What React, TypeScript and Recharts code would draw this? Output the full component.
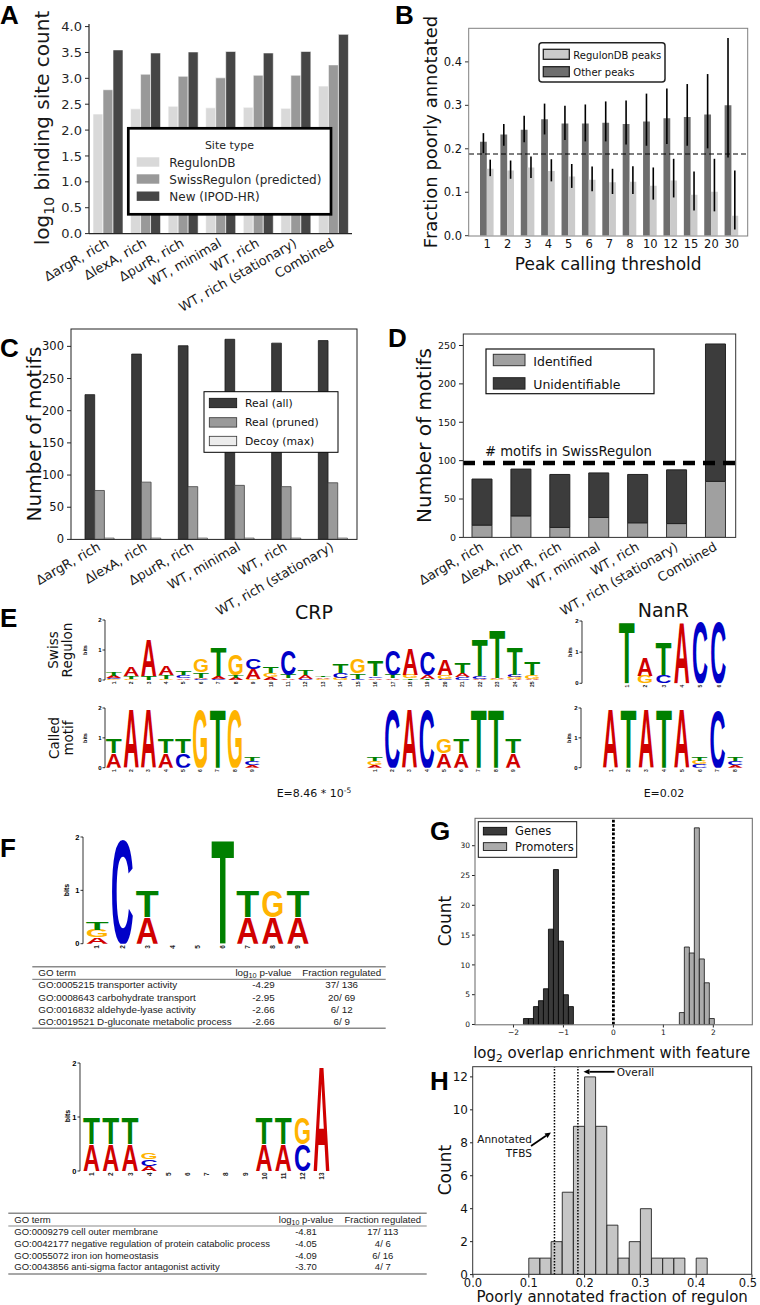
import React from 'react';
import { BarChart, Bar, XAxis, YAxis, ReferenceLine, ErrorBar } from 'recharts';

const SANS = "'DejaVu Sans', 'Liberation Sans', sans-serif";
const HELV = "'Liberation Sans', Arial, sans-serif";

// ===== Panel A =====
const conditionsAll = ['ΔargR, rich', 'ΔlexA, rich', 'ΔpurR, rich', 'WT, minimal', 'WT, rich', 'WT, rich (stationary)', 'Combined'];
const siteRegulonDB = [2.31, 2.41, 2.46, 2.43, 2.44, 2.42, 2.85];
const siteSwissRegulon = [2.78, 3.08, 3.04, 3.01, 3.06, 3.06, 3.26];
const siteNewIPOD = [3.55, 3.49, 3.51, 3.52, 3.49, 3.52, 3.85];
const ticksA = [0, 0.5, 1, 1.5, 2, 2.5, 3, 3.5, 4];

// ===== Panel B =====
const thresholds = ['1', '2', '3', '4', '5', '6', '7', '8', '10', '12', '15', '20', '30'];
const otherPeaks = [0.216, 0.233, 0.244, 0.268, 0.258, 0.258, 0.260, 0.257, 0.263, 0.270, 0.273, 0.279, 0.300];
const otherLow = [0.190, 0.207, 0.215, 0.233, 0.220, 0.217, 0.217, 0.210, 0.207, 0.211, 0.207, 0.201, 0.180];
const otherHigh = [0.236, 0.257, 0.276, 0.304, 0.299, 0.302, 0.309, 0.311, 0.327, 0.339, 0.349, 0.372, 0.455];
const regulonPeaks = [0.154, 0.150, 0.157, 0.149, 0.136, 0.129, 0.123, 0.124, 0.115, 0.127, 0.094, 0.101, 0.046];
const regulonLow = [0.137, 0.131, 0.133, 0.125, 0.110, 0.102, 0.096, 0.096, 0.083, 0.088, 0.058, 0.056, 0.014];
const regulonHigh = [0.175, 0.173, 0.182, 0.176, 0.165, 0.159, 0.154, 0.160, 0.157, 0.177, 0.148, 0.177, 0.150];
const overallPoorFraction = 0.188;
const ticksB = [0, 0.1, 0.2, 0.3, 0.4];

// ===== Panel C =====
const conditionsSix = ['ΔargR, rich', 'ΔlexA, rich', 'ΔpurR, rich', 'WT, minimal', 'WT, rich', 'WT, rich (stationary)'];
const motifsRealAll = [225, 288, 301, 311, 305, 309];
const motifsRealPruned = [76, 89, 82, 84, 82, 88];
const motifsDecoyMax = [2, 2, 2, 2, 2, 2];
const ticksC = [0, 50, 100, 150, 200, 250, 300];

// ===== Panel D =====
const motifsIdentified = [16, 28, 13, 26, 19, 18, 73];
const motifsUnidentifiable = [60, 61, 69, 58, 63, 70, 179];
const swissRegulonMotifCount = 97;
const ticksD = [0, 50, 100, 150, 200, 250];

// ===== Panel E / F logos (letter, bits), bottom to top =====
type Stack = [string, number][];
const crpSwissLogo: Stack[] = [
  [['G', 0.03], ['C', 0.03], ['A', 0.08], ['T', 0.14]],
  [['G', 0.04], ['T', 0.08], ['A', 0.30]],
  [['T', 0.12], ['A', 1.22]],
  [['G', 0.04], ['T', 0.14], ['A', 0.30]],
  [['A', 0.06], ['C', 0.10], ['T', 0.12]],
  [['C', 0.04], ['A', 0.04], ['T', 0.18], ['G', 0.45]],
  [['C', 0.04], ['A', 0.10], ['T', 0.95]],
  [['A', 0.08], ['T', 0.10], ['G', 0.70]],
  [['G', 0.03], ['A', 0.33], ['C', 0.36]],
  [['A', 0.10], ['G', 0.12], ['T', 0.20]],
  [['A', 0.05], ['T', 0.12], ['C', 0.85]],
  [['C', 0.03], ['A', 0.14], ['T', 0.18]],
  [['G', 0.04], ['A', 0.06], ['T', 0.06]],
  [['G', 0.08], ['C', 0.15], ['T', 0.30]],
  [['C', 0.04], ['T', 0.18], ['G', 0.46]],
  [['A', 0.06], ['C', 0.06], ['T', 0.52]],
  [['A', 0.06], ['T', 0.12], ['C', 0.82]],
  [['T', 0.05], ['G', 0.12], ['A', 0.86]],
  [['T', 0.04], ['A', 0.12], ['C', 0.78]],
  [['C', 0.04], ['G', 0.14], ['A', 0.52]],
  [['C', 0.10], ['A', 0.12], ['T', 0.36]],
  [['A', 0.04], ['C', 0.10], ['T', 1.25]],
  [['G', 0.03], ['A', 0.04], ['T', 1.65]],
  [['A', 0.03], ['G', 0.07], ['C', 0.07], ['T', 0.92]],
  [['A', 0.04], ['G', 0.12], ['T', 0.45]],
];
const crpCalledLeft: Stack[] = [
  [['A', 0.5], ['T', 0.5]], [['A', 2.0]], [['A', 2.0]], [['A', 0.5], ['T', 0.5]], [['C', 0.5], ['T', 0.5]],
  [['G', 2.0]], [['T', 2.0]], [['G', 2.0]], [['A', 0.1], ['C', 0.12], ['T', 0.12]],
];
const crpCalledRight: Stack[] = [
  [['A', 0.08], ['G', 0.14], ['T', 0.12]], [['C', 2.0]], [['A', 2.0]], [['C', 2.0]], [['A', 0.5], ['G', 0.5]],
  [['A', 0.5], ['T', 0.5]], [['T', 2.0]], [['T', 2.0]], [['A', 0.5], ['T', 0.5]],
];
const nanrSwissLogo: Stack[] = [
  [['T', 1.98]], [['G', 0.24], ['A', 0.59]], [['C', 0.27], ['T', 1.07]], [['A', 1.98]], [['C', 1.98]], [['C', 1.98]],
];
const nanrCalledLogo: Stack[] = [
  [['A', 2.0]], [['T', 2.0]], [['A', 2.0]], [['T', 2.0]], [['A', 2.0]],
  [['C', 0.12], ['G', 0.12], ['T', 0.12]], [['C', 1.95]], [['A', 0.1], ['C', 0.12], ['T', 0.12]],
];
const motifF1: Stack[] = [
  [['A', 0.12], ['G', 0.14], ['T', 0.14]], [['C', 2.0]], [['A', 0.5], ['T', 0.5]], [], [],
  [['T', 2.0]], [['A', 0.5], ['T', 0.5]], [['A', 0.5], ['G', 0.5]], [['A', 0.5], ['T', 0.5]],
];
const motifF2: Stack[] = [
  [['A', 0.5], ['T', 0.5]], [['A', 0.5], ['T', 0.5]], [['A', 0.5], ['T', 0.5]], [['A', 0.1], ['C', 0.13], ['G', 0.13]],
  [], [], [], [], [],
  [['A', 0.5], ['T', 0.5]], [['A', 0.5], ['T', 0.5]], [['C', 0.5], ['G', 0.5]], [['A', 2.0]],
];

// ===== Panel F tables =====
const goTable1 = [
  ['GO:0005215 transporter activity', '-4.29', '37/ 136'],
  ['GO:0008643 carbohydrate transport', '-2.95', '20/ 69'],
  ['GO:0016832 aldehyde-lyase activity', '-2.66', '6/ 12'],
  ['GO:0019521 D-gluconate metabolic process', '-2.66', '6/ 9'],
];
const goTable2 = [
  ['GO:0009279 cell outer membrane', '-4.81', '17/ 113'],
  ['GO:0042177 negative regulation of protein catabolic process', '-4.05', '4/ 6'],
  ['GO:0055072 iron ion homeostasis', '-4.09', '6/ 16'],
  ['GO:0043856 anti-sigma factor antagonist activity', '-3.70', '4/ 7'],
];

// ===== Panel G =====
const geneBinCenters = [-1.75, -1.65, -1.55, -1.45, -1.35, -1.25, -1.15, -1.05, -0.95, -0.85];
const geneCounts = [1, 1, 3, 4, 6, 16, 26, 14, 5, 3];
const promoterBinCenters = [1.37, 1.47, 1.57, 1.67, 1.77, 1.87, 1.97];
const promoterCounts = [2, 13, 12, 33, 11, 7, 1];
const ticksGx = [-2, -1, 0, 1, 2];
const ticksGy = [0, 5, 10, 15, 20, 25, 30];

// ===== Panel H =====
const regulonBinCenters = [0.11, 0.13, 0.15, 0.17, 0.19, 0.21, 0.23, 0.25, 0.27, 0.29, 0.31, 0.33, 0.35, 0.37, 0.39, 0.41];
const regulonCounts = [1, 1, 2, 5, 9, 12, 9, 3, 1, 2, 4, 1, 1, 1, 0, 1];
const annotatedTFBSFraction = 0.146;
const overallFraction = 0.188;
const ticksHx = [0, 0.1, 0.2, 0.3, 0.4, 0.5];
const ticksHy = [0, 2, 4, 6, 8, 10, 12];

// ===== helpers =====
type Rect = { x0: number; y0: number; x1: number; y1: number };
type Pad = { l: number; t: number; r: number; b: number };

function Place({ r, p, render }: { r: Rect; p: Pad; render: (w: number, h: number) => React.ReactNode }) {
  const w = r.x1 - r.x0 + p.l + p.r;
  const h = r.y1 - r.y0 + p.t + p.b;
  return <div style={{ position: 'absolute', left: r.x0 - p.l, top: r.y0 - p.t, width: w, height: h }}>{render(w, h)}</div>;
}

const rotTick = (fs: number, dy: number, dx: number) => (props: any) => {
  const { x, y, payload } = props;
  const tx = x + dx;
  const ty = y + dy;
  return (
    <text x={tx} y={ty} transform={`rotate(-30 ${tx} ${ty})`} textAnchor="end" fontSize={fs} fill="#1a1a1a" fontFamily={SANS}>
      {payload.value}
    </text>
  );
};

const LETTER_COLORS: Record<string, string> = { A: '#d00000', C: '#0000c8', G: '#ffb300', T: '#008000' };
const letterShape = (k: number) => (props: any) => {
  const { x, y, width, height, payload } = props;
  const l = payload ? payload['l' + k] : '';
  if (!l || !(height > 0.3)) return <g />;
  return (
    <text
      transform={`translate(${x},${y + height}) scale(${width / 100},${height / 71.5})`}
      x={0}
      y={0}
      fontSize={100}
      fontFamily={HELV}
      fontWeight={700}
      fill={LETTER_COLORS[l]}
      textLength={100}
      lengthAdjust="spacingAndGlyphs"
    >
      {l}
    </text>
  );
};

const posTick = (fs: number) => (props: any) => {
  const { x, y, payload } = props;
  const ty = y + 1.5;
  return (
    <text x={x} y={ty} transform={`rotate(-90 ${x} ${ty})`} textAnchor="end" dominantBaseline="central" fontSize={fs} fontWeight={700} fontFamily={HELV} fill="#222">
      {payload.value}
    </text>
  );
};

function Logo({ stacks, r, padLeft = 0, axis = true, tf = 6, pf = 5 }: { stacks: Stack[]; r: Rect; padLeft?: number; axis?: boolean; tf?: number; pf?: number }) {
  const rows = stacks.map((s, i) => {
    const o: any = { pos: String(i + 1) };
    for (let k = 0; k < 4; k++) {
      o['h' + k] = s[k] ? s[k][1] : 0;
      o['l' + k] = s[k] ? s[k][0] : '';
    }
    return o;
  });
  const ph = r.y1 - r.y0;
  const p = { l: 22, t: Math.ceil(ph * 0.32) + 6, r: 6, b: Math.ceil(ph * 0.36) + 18 };
  return (
    <Place r={r} p={p} render={(w, h) => (
      <BarChart width={w} height={h} data={rows} margin={{ top: p.t, right: p.r, left: axis ? 0 : p.l, bottom: 0 }} barCategoryGap="5%">
        <XAxis dataKey="pos" interval={0} height={p.b} padding={{ left: padLeft, right: 0 }} axisLine={false} tickLine={false} tickSize={0} tickMargin={0} tick={posTick(pf)} />
        <YAxis hide={!axis} width={p.l} type="number" domain={[0, 2]} ticks={[0, 1, 2]} allowDataOverflow tickSize={2.5} tickMargin={1}
          axisLine={{ stroke: '#000', strokeWidth: 0.8 }} tickLine={{ stroke: '#000', strokeWidth: 0.8 }}
          tick={{ fontSize: tf, fontWeight: 700, fill: '#000', fontFamily: HELV }} />
        {[0, 1, 2, 3].map((k) => (
          <Bar key={k} dataKey={'h' + k} stackId="s" isAnimationActive={false} shape={letterShape(k)} />
        ))}
      </BarChart>
    )} />
  );
}

// ===== panels =====
const rA: Rect = { x0: 89, y0: 24.4, x1: 352, y1: 234 };
const pA: Pad = { l: 60, t: 10, r: 10, b: 85 };
function PanelA() {
  const data = conditionsAll.map((c, i) => ({ c, reg: siteRegulonDB[i], swiss: siteSwissRegulon[i], nw: siteNewIPOD[i] }));
  return (
    <Place r={rA} p={pA} render={(w, h) => (
      <BarChart width={w} height={h} data={data} margin={{ top: pA.t, right: pA.r, left: 0, bottom: 0 }} barCategoryGap={4} barGap={0}>
        <XAxis dataKey="c" interval={0} height={pA.b} tickSize={0} tickMargin={0} tickLine={false} axisLine={{ stroke: '#262626', strokeWidth: 1.2 }} tick={rotTick(13, 12, 2)} />
        <YAxis width={pA.l} type="number" domain={[0, 4.05]} ticks={ticksA} allowDataOverflow tickFormatter={(v: number) => v.toFixed(1)}
          tickSize={4} tickMargin={3} axisLine={{ stroke: '#262626', strokeWidth: 1.2 }} tickLine={{ stroke: '#262626' }} tick={{ fontSize: 13, fill: '#262626' }} />
        <Bar dataKey="reg" fill="#d9d9d9" stroke="#ffffff" strokeWidth={0.6} isAnimationActive={false} />
        <Bar dataKey="swiss" fill="#999999" stroke="#ffffff" strokeWidth={0.6} isAnimationActive={false} />
        <Bar dataKey="nw" fill="#464646" stroke="#ffffff" strokeWidth={0.6} isAnimationActive={false} />
      </BarChart>
    )} />
  );
}

const rB: Rect = { x0: 468.7, y0: 28.3, x1: 747.7, y1: 236 };
const pB: Pad = { l: 40, t: 6, r: 8, b: 24 };
function PanelB() {
  const data = thresholds.map((t, i) => ({
    t,
    other: otherPeaks[i],
    otherErr: [otherPeaks[i] - otherLow[i], otherHigh[i] - otherPeaks[i]],
    reg: regulonPeaks[i],
    regErr: [regulonPeaks[i] - regulonLow[i], regulonHigh[i] - regulonPeaks[i]],
  }));
  return (
    <Place r={rB} p={pB} render={(w, h) => (
      <BarChart width={w} height={h} data={data} margin={{ top: pB.t, right: pB.r, left: 0, bottom: 0 }} barGap={0} barSize={6.8}>
        <XAxis dataKey="t" interval={0} height={pB.b} padding={{ left: 8, right: 6 }} axisLine={false} tickLine={false} tickSize={0} tickMargin={4} tick={{ fontSize: 11.5, fill: '#111' }} />
        <YAxis width={pB.l} type="number" domain={[0, 0.478]} ticks={ticksB} allowDataOverflow tickFormatter={(v: number) => v.toFixed(1)}
          tickSize={4} tickMargin={3} axisLine={false} tickLine={{ stroke: '#333' }} tick={{ fontSize: 11.5, fill: '#111' }} />
        <Bar dataKey="other" fill="#6e6e6e" isAnimationActive={false}>
          <ErrorBar dataKey="otherErr" width={0} stroke="#000" strokeWidth={1.6} direction="y" isAnimationActive={false} />
        </Bar>
        <Bar dataKey="reg" fill="#cbcbcb" isAnimationActive={false}>
          <ErrorBar dataKey="regErr" width={0} stroke="#000" strokeWidth={1.6} direction="y" isAnimationActive={false} />
        </Bar>
        <ReferenceLine y={overallPoorFraction} stroke="#000" strokeWidth={1.2} strokeDasharray="5 3" />
      </BarChart>
    )} />
  );
}

const rC: Rect = { x0: 71, y0: 329, x1: 357, y1: 539.4 };
const pC: Pad = { l: 50, t: 6, r: 6, b: 95 };
function PanelC() {
  const data = conditionsSix.map((c, i) => ({ c, all: motifsRealAll[i], pruned: motifsRealPruned[i], decoy: motifsDecoyMax[i] }));
  return (
    <Place r={rC} p={pC} render={(w, h) => (
      <BarChart width={w} height={h} data={data} margin={{ top: pC.t, right: pC.r, left: 0, bottom: 0 }} barGap={0} barSize={9.7}>
        <XAxis dataKey="c" interval={0} height={pC.b} padding={{ left: 5, right: 1 }} tickSize={0} tickMargin={0} tickLine={false} axisLine={false} tick={rotTick(13, 10, 2)} />
        <YAxis width={pC.l} type="number" domain={[0, 327]} ticks={ticksC} allowDataOverflow tickSize={4} tickMargin={3}
          axisLine={false} tickLine={{ stroke: '#222' }} tick={{ fontSize: 11.5, fill: '#111' }} />
        <Bar dataKey="all" fill="#3a3a3a" stroke="#1a1a1a" strokeWidth={0.8} isAnimationActive={false} />
        <Bar dataKey="pruned" fill="#9a9a9a" stroke="#444" strokeWidth={0.8} isAnimationActive={false} />
        <Bar dataKey="decoy" fill="#ececec" stroke="#555" strokeWidth={0.8} isAnimationActive={false} />
      </BarChart>
    )} />
  );
}

const rD: Rect = { x0: 463.3, y0: 334, x1: 735.7, y1: 537.4 };
const pD: Pad = { l: 50, t: 6, r: 20, b: 95 };
function PanelD() {
  const data = conditionsAll.map((c, i) => ({ c, idf: motifsIdentified[i], unid: motifsUnidentifiable[i] }));
  return (
    <Place r={rD} p={pD} render={(w, h) => (
      <BarChart width={w} height={h} data={data} margin={{ top: pD.t, right: pD.r, left: 0, bottom: 0 }} barSize={20}>
        <XAxis dataKey="c" interval={0} height={pD.b} tickSize={0} tickMargin={0} tickLine={false} axisLine={false} tick={rotTick(13, 12, 2)} />
        <YAxis width={pD.l} type="number" domain={[0, 265]} ticks={ticksD} allowDataOverflow tickSize={4} tickMargin={3}
          axisLine={false} tickLine={{ stroke: '#222' }} tick={{ fontSize: 9.5, fill: '#111' }} />
        <Bar dataKey="idf" stackId="m" fill="#a0a0a0" stroke="#333" strokeWidth={1} isAnimationActive={false} />
        <Bar dataKey="unid" stackId="m" fill="#3c3c3c" stroke="#222" strokeWidth={1} isAnimationActive={false} />
        <ReferenceLine y={swissRegulonMotifCount} stroke="#000" strokeWidth={4.5} strokeDasharray="12 8" />
      </BarChart>
    )} />
  );
}

const minusFmt = (v: number) => (v < 0 ? '\u2212' + Math.abs(v) : String(v));

const rG: Rect = { x0: 475, y0: 818.3, x1: 752.3, y1: 1024.8 };
const pG: Pad = { l: 25, t: 4, r: 5, b: 16 };
function PanelG() {
  const data = [
    ...geneBinCenters.map((x, i) => ({ x, genes: geneCounts[i] })),
    ...promoterBinCenters.map((x, i) => ({ x, promoters: promoterCounts[i] })),
  ];
  return (
    <Place r={rG} p={pG} render={(w, h) => (
      <BarChart width={w} height={h} data={data} margin={{ top: pG.t, right: pG.r, left: 0, bottom: 0 }} barCategoryGap={0} barGap={0}>
        <XAxis dataKey="x" type="number" domain={[-2.77, 2.78]} ticks={ticksGx} allowDataOverflow height={pG.b} tickFormatter={minusFmt}
          tickSize={3} tickMargin={2} axisLine={false} tickLine={{ stroke: '#222' }} tick={{ fontSize: 7.5, fill: '#111' }} />
        <YAxis width={pG.l} type="number" domain={[0, 34.65]} ticks={ticksGy} allowDataOverflow tickSize={3} tickMargin={2}
          axisLine={false} tickLine={{ stroke: '#222' }} tick={{ fontSize: 7.5, fill: '#111' }} />
        <Bar dataKey="genes" stackId="h" fill="#3a3a3a" stroke="#000" strokeWidth={0.8} isAnimationActive={false} />
        <Bar dataKey="promoters" stackId="h" fill="#ababab" stroke="#111" strokeWidth={0.8} isAnimationActive={false} />
        <ReferenceLine x={0} stroke="#000" strokeWidth={2.8} strokeDasharray="2.7 1.6" />
      </BarChart>
    )} />
  );
}

const hxTick = (props: any) => {
  const { x, y, payload } = props;
  const v = Number(payload.value);
  const shift = v >= 0.5 ? -2 : 0;
  return (
    <text x={x + shift} y={y} dy="0.71em" textAnchor="middle" fontSize={11.5} fill="#111" fontFamily={SANS}>
      {v.toFixed(1)}
    </text>
  );
};

const rH: Rect = { x0: 472.7, y0: 1066.7, x1: 751.7, y1: 1274.3 };
const pH: Pad = { l: 32, t: 4, r: 8, b: 20 };
function PanelH() {
  const data = regulonBinCenters.map((x, i) => ({ x, n: regulonCounts[i] }));
  return (
    <Place r={rH} p={pH} render={(w, h) => (
      <BarChart width={w} height={h} data={data} margin={{ top: pH.t, right: pH.r, left: 0, bottom: 0 }} barCategoryGap={0} barGap={0}>
        <XAxis dataKey="x" type="number" domain={[0, 0.5]} ticks={ticksHx} allowDataOverflow height={pH.b}
          tickSize={3} tickMargin={1} axisLine={false} tickLine={{ stroke: '#222' }} tick={hxTick} />
        <YAxis width={pH.l} type="number" domain={[0, 12.6]} ticks={ticksHy} allowDataOverflow tickSize={3} tickMargin={2}
          axisLine={false} tickLine={{ stroke: '#222' }} tick={{ fontSize: 12, fill: '#111' }} />
        <Bar dataKey="n" fill="#c6c6c6" stroke="#222" strokeWidth={0.9} isAnimationActive={false} />
        <ReferenceLine x={annotatedTFBSFraction} stroke="#000" strokeWidth={1.5} strokeDasharray="1.5 1.5" />
        <ReferenceLine x={overallFraction} stroke="#000" strokeWidth={1.5} strokeDasharray="1.5 1.5" />
      </BarChart>
    )} />
  );
}

function Arrow({ x1, y1, x2, y2, w = 1.8, head = 6 }: { x1: number; y1: number; x2: number; y2: number; w?: number; head?: number }) {
  const dx = x2 - x1, dy = y2 - y1;
  const L = Math.sqrt(dx * dx + dy * dy);
  const ux = dx / L, uy = dy / L;
  const bx = x2 - ux * head, by = y2 - uy * head;
  const px = -uy * head * 0.45, py = ux * head * 0.45;
  return (
    <g>
      <line x1={x1} y1={y1} x2={bx} y2={by} stroke="#000" strokeWidth={w} />
      <polygon points={`${x2},${y2} ${bx + px},${by + py} ${bx - px},${by - py}`} fill="#000" />
    </g>
  );
}

function GoTable({ rows, x0, x1, yTop, yHead, yBottom, colP, colF, xText, fs, rowY }: any) {
  return (
    <g fontFamily={HELV} fontSize={fs} fill="#1a1a1a">
      <line x1={x0} x2={x1} y1={yTop} y2={yTop} stroke="#8a8a8a" strokeWidth={1.4} />
      <line x1={x0} x2={x1} y1={yHead} y2={yHead} stroke="#8a8a8a" strokeWidth={1.2} />
      <line x1={x0} x2={x1} y1={yBottom} y2={yBottom} stroke="#8a8a8a" strokeWidth={1.4} />
      <text x={xText} y={(yTop + yHead) / 2 + 3.4}>GO term</text>
      <text x={colP} y={(yTop + yHead) / 2 + 3.4} textAnchor="middle">log<tspan dy={2} fontSize={fs * 0.75}>10</tspan><tspan dy={-2}> p-value</tspan></text>
      <text x={colF} y={(yTop + yHead) / 2 + 3.4} textAnchor="middle">Fraction regulated</text>
      {rows.map((r: string[], i: number) => (
        <g key={i}>
          <text x={xText} y={rowY[i] + 3.4}>{r[0]}</text>
          <text x={colP} y={rowY[i] + 3.4} textAnchor="middle">{r[1]}</text>
          <text x={colF} y={rowY[i] + 3.4} textAnchor="middle">{r[2]}</text>
        </g>
      ))}
    </g>
  );
}

function Overlay() {
  const letters: [string, number, number][] = [
    ['A', 0, 24], ['B', 395, 24], ['C', 0, 357], ['D', 388, 347], ['E', 0, 627], ['F', 0, 857], ['G', 430, 840], ['H', 430, 1090],
  ];
  return (
    <svg width={760} height={1305} style={{ position: 'absolute', left: 0, top: 0, pointerEvents: 'none' }} fontFamily={SANS}>
      {letters.map(([t, x, y]) => (
        <text key={t} x={x} y={y} fontSize={26} fontWeight={700} fontFamily={HELV} fill="#000">{t}</text>
      ))}

      {/* Panel A */}
      <text transform="translate(48.5,128) rotate(-90)" textAnchor="middle" fontSize={20} fill="#1a1a1a">
        log<tspan dy={5} fontSize={14}>10</tspan><tspan dy={-5}> binding site count</tspan>
      </text>
      <rect x={128.3} y={128.3} width={202.7} height={86} fill="#fff" stroke="#000" strokeWidth={2.7} />
      <text x={229.5} y={149} textAnchor="middle" fontSize={11} fill="#262626">Site type</text>
      <rect x={136.7} y={157.3} width={22.6} height={9.4} fill="#d9d9d9" />
      <rect x={136.7} y={174.3} width={22.6} height={9.4} fill="#999999" />
      <rect x={136.7} y={191.5} width={22.6} height={9.4} fill="#464646" />
      <text x={169.3} y={166.5} fontSize={12} fill="#262626">RegulonDB</text>
      <text x={169.3} y={183.8} fontSize={12} fill="#262626">SwissRegulon (predicted)</text>
      <text x={169.3} y={201.1} fontSize={12} fill="#262626">New (IPOD-HR)</text>

      {/* Panel B */}
      <rect x={rB.x0} y={rB.y0} width={rB.x1 - rB.x0} height={rB.y1 - rB.y0} fill="none" stroke="#808080" strokeWidth={1} />
      <text transform="translate(436.5,132) rotate(-90)" textAnchor="middle" fontSize={18} fill="#111">Fraction poorly annotated</text>
      <text x={608.2} y={269.5} textAnchor="middle" fontSize={17} fill="#111">Peak calling threshold</text>
      <rect x={539} y={42.7} width={126} height={39.3} rx={3} fill="#fff" stroke="#222" strokeWidth={1.5} />
      <rect x={543.3} y={49.3} width={26} height={10} fill="#cbcbcb" stroke="#222" strokeWidth={1.3} />
      <rect x={543.3} y={66.7} width={26} height={10} fill="#6e6e6e" stroke="#222" strokeWidth={1.3} />
      <text x={573.3} y={58.6} fontSize={10} fill="#111">RegulonDB peaks</text>
      <text x={573.3} y={75.9} fontSize={10} fill="#111">Other peaks</text>

      {/* Panel C */}
      <rect x={rC.x0} y={rC.y0} width={rC.x1 - rC.x0} height={rC.y1 - rC.y0} fill="none" stroke="#222" strokeWidth={1} />
      <text transform="translate(41.3,434) rotate(-90)" textAnchor="middle" fontSize={20} fill="#111">Number of motifs</text>
      <rect x={204} y={391.7} width={134} height={60.6} fill="#fff" stroke="#000" strokeWidth={1} />
      <rect x={209.3} y={398.3} width={27.4} height={9.4} fill="#3a3a3a" stroke="#111" strokeWidth={0.8} />
      <rect x={209.3} y={417.7} width={27.4} height={9.4} fill="#9a9a9a" stroke="#333" strokeWidth={0.8} />
      <rect x={209.3} y={436.3} width={27.4} height={9.4} fill="#ececec" stroke="#333" strokeWidth={0.8} />
      <text x={245} y={406.7} fontSize={10.8} fill="#111">Real (all)</text>
      <text x={245} y={426.3} fontSize={10.8} fill="#111">Real (pruned)</text>
      <text x={245} y={445} fontSize={10.8} fill="#111">Decoy (max)</text>

      {/* Panel D */}
      <rect x={rD.x0} y={rD.y0} width={rD.x1 - rD.x0} height={rD.y1 - rD.y0} fill="none" stroke="#333" strokeWidth={1} />
      <text transform="translate(431.3,435.5) rotate(-90)" textAnchor="middle" fontSize={20} fill="#111">Number of motifs</text>
      <rect x={486} y={349} width={168} height={44.7} fill="#fff" stroke="#111" strokeWidth={1.2} />
      <rect x={493.3} y={354.3} width={31.7} height={11.4} fill="#a0a0a0" stroke="#333" strokeWidth={1} />
      <rect x={493.3} y={377.7} width={31.7} height={11.4} fill="#3c3c3c" stroke="#222" strokeWidth={1} />
      <text x={533.3} y={365.5} fontSize={12.5} fill="#111">Identified</text>
      <text x={533.3} y={388.5} fontSize={12.5} fill="#111">Unidentifiable</text>
      <text x={485} y={455.5} fontSize={13.2} fill="#111"># motifs in SwissRegulon</text>

      {/* Panel E */}
      <text x={314} y={619} textAnchor="middle" fontSize={19} fill="#111">CRP</text>
      <text x={663.3} y={617} textAnchor="middle" fontSize={19} fill="#111">NanR</text>
      <text transform="translate(58,650) rotate(-90)" textAnchor="middle" fontSize={13.5} fill="#111">Swiss</text>
      <text transform="translate(72,650) rotate(-90)" textAnchor="middle" fontSize={13.5} fill="#111">Regulon</text>
      <text transform="translate(59,738) rotate(-90)" textAnchor="middle" fontSize={13.5} fill="#111">Called</text>
      <text transform="translate(73.2,738) rotate(-90)" textAnchor="middle" fontSize={13.5} fill="#111">motif</text>
      <text transform="translate(87,650) rotate(-90)" textAnchor="middle" fontSize={5.5} fontWeight={700} fontFamily={HELV}>bits</text>
      <text transform="translate(87,738) rotate(-90)" textAnchor="middle" fontSize={5.5} fontWeight={700} fontFamily={HELV}>bits</text>
      <text transform="translate(572,652) rotate(-90)" textAnchor="middle" fontSize={5.5} fontWeight={700} fontFamily={HELV}>bits</text>
      <text transform="translate(571,738) rotate(-90)" textAnchor="middle" fontSize={5.5} fontWeight={700} fontFamily={HELV}>bits</text>
      <text x={314} y={797} textAnchor="middle" fontSize={11} fill="#111">E=8.46 * 10<tspan dy={-4} fontSize={7.5}>-5</tspan></text>
      <text x={664} y={797} textAnchor="middle" fontSize={11} fill="#111">E=0.02</text>

      {/* Panel F */}
      <text transform="translate(68.5,890) rotate(-90)" textAnchor="middle" fontSize={7} fontWeight={700} fontFamily={HELV}>bits</text>
      <text transform="translate(70,1116) rotate(-90)" textAnchor="middle" fontSize={7} fontWeight={700} fontFamily={HELV}>bits</text>
      <GoTable rows={goTable1} x0={32.3} x1={385.7} yTop={966.7} yHead={979.3} yBottom={1028.3} colP={263.5} colF={341.7} xText={38.3} fs={9.8}
        rowY={[985, 997.3, 1009.5, 1021.7]} />
      <GoTable rows={goTable2} x0={8.3} x1={426.7} yTop={1213.3} yHead={1226} yBottom={1274} colP={306} colF={382.8} xText={14.3} fs={9.5}
        rowY={[1231.5, 1243.3, 1255.3, 1266.7]} />

      {/* Panel G */}
      <rect x={rG.x0} y={rG.y0} width={rG.x1 - rG.x0} height={rG.y1 - rG.y0} fill="none" stroke="#666" strokeWidth={1} />
      <text transform="translate(450.7,921) rotate(-90)" textAnchor="middle" fontSize={17} fill="#111">Count</text>
      <text x={611.7} y={1058} textAnchor="middle" fontSize={15} fill="#111">log<tspan dy={4} fontSize={10.5}>2</tspan><tspan dy={-4}> overlap enrichment with feature</tspan></text>
      <rect x={478.3} y={821.7} width={98.4} height={35.6} fill="#fff" stroke="#111" strokeWidth={1} />
      <rect x={483.3} y={827.3} width={23.4} height={7.7} fill="#3a3a3a" stroke="#000" strokeWidth={0.8} />
      <rect x={483.3} y={842.7} width={23.4} height={7.7} fill="#ababab" stroke="#000" strokeWidth={0.8} />
      <text x={515} y={834.8} fontSize={11.5} fill="#111">Genes</text>
      <text x={515} y={850.8} fontSize={11.5} fill="#111">Promoters</text>

      {/* Panel H */}
      <rect x={rH.x0} y={rH.y0} width={rH.x1 - rH.x0} height={rH.y1 - rH.y0} fill="none" stroke="#333" strokeWidth={1} />
      <text transform="translate(450.7,1170) rotate(-90)" textAnchor="middle" fontSize={17} fill="#111">Count</text>
      <text x={612.2} y={1301.5} textAnchor="middle" fontSize={15} fill="#111">Poorly annotated fraction of regulon</text>
      <text x={616.7} y={1076} fontSize={10.5} fill="#111">Overall</text>
      <Arrow x1={614.5} y1={1071.8} x2={583.5} y2={1071.8} w={1.8} head={6} />
      <text x={532} y={1143} textAnchor="end" fontSize={10.5} fill="#111">Annotated</text>
      <text x={532} y={1157} textAnchor="end" fontSize={10.5} fill="#111">TFBS</text>
      <Arrow x1={531} y1={1146} x2={551} y2={1132.5} w={1.8} head={6} />
    </svg>
  );
}

export default function App() {
  return (
    <div style={{ position: 'absolute', left: 0, top: 0, width: 760, height: 1305, background: '#fff', fontFamily: SANS, overflow: 'hidden' }}>
      <PanelA />
      <PanelB />
      <PanelC />
      <PanelD />
      <Logo stacks={crpSwissLogo} r={{ x0: 104.6, x1: 540.3, y0: 620, y1: 680 }} />
      <Logo stacks={crpCalledLeft} r={{ x0: 104.6, x1: 260.3, y0: 708.3, y1: 768 }} />
      <Logo stacks={crpCalledRight} r={{ x0: 365.7, x1: 521.4, y0: 708.3, y1: 768 }} axis={false} />
      <Logo stacks={nanrSwissLogo} r={{ x0: 581.7, x1: 727.4, y0: 621, y1: 683.3 }} padLeft={35.9} />
      <Logo stacks={nanrCalledLogo} r={{ x0: 581.3, x1: 744.4, y0: 708.3, y1: 768 }} padLeft={20.7} />
      <Logo stacks={motifF1} r={{ x0: 82.7, x1: 310, y0: 837.3, y1: 944 }} padLeft={1.4} tf={7.5} pf={6.5} />
      <Logo stacks={motifF2} r={{ x0: 80, x1: 331.3, y0: 1062.7, y1: 1170.7 }} padLeft={2.1} tf={7.5} pf={6.5} />
      <PanelG />
      <PanelH />
      <Overlay />
    </div>
  );
}
